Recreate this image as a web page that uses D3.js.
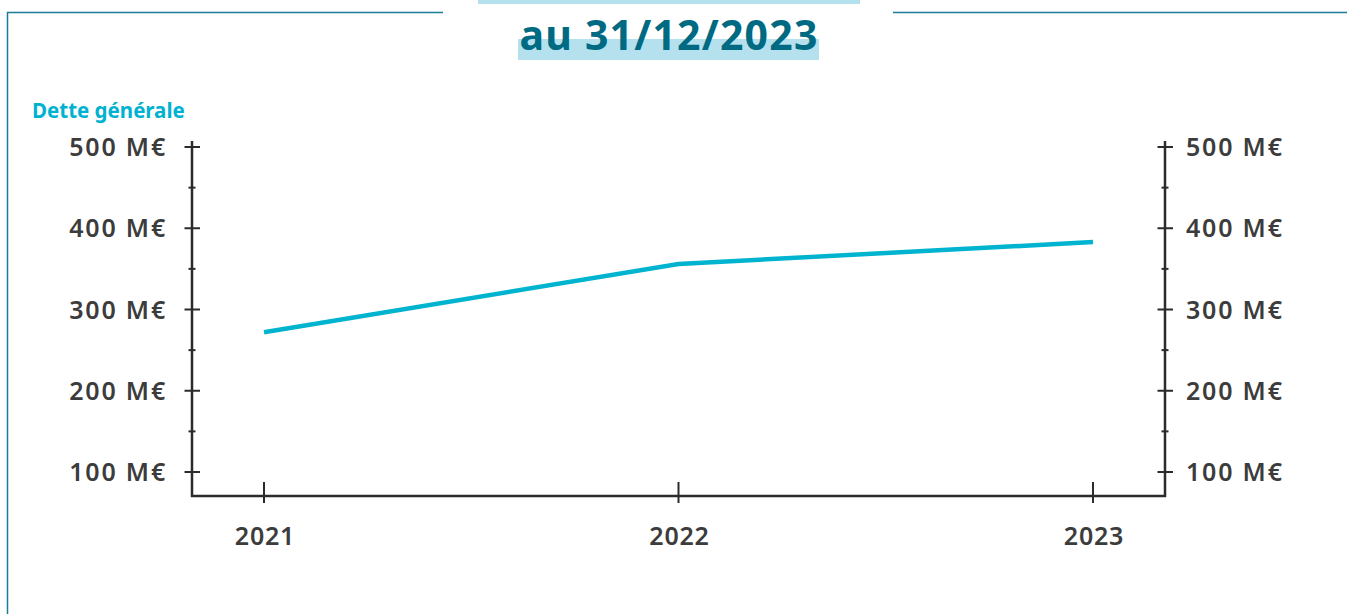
<!DOCTYPE html>
<html><head><meta charset="utf-8">
<script src="https://cdn.jsdelivr.net/npm/d3@7"></script>
<style>body{margin:0;background:#fff;}svg{display:block;font-family:"Noto Sans",sans-serif;}</style>
</head><body>
<svg id="c" width="1347" height="614"></svg>
<script>
const years = ["2021", "2022", "2023"];
const dette = [272, 356, 383];
const yTicks = [100, 200, 300, 400, 500];
const yMinor = [150, 250, 350, 450];
const title = "au 31/12/2023";
const seriesLabel = "Dette générale";

const svg = d3.select("#c");
// frame
const frameColor = "#1b7d98";
svg.append("path").attr("d", "M7.5,614 L7.5,12.5 L443,12.5").attr("fill","none").attr("stroke",frameColor).attr("stroke-width",1.5);
svg.append("path").attr("d", "M893,12.5 L1347,12.5").attr("fill","none").attr("stroke",frameColor).attr("stroke-width",1.5);
// title bars
svg.append("rect").attr("x",478).attr("y",0).attr("width",382).attr("height",4).attr("fill","#b5e1ee");
svg.append("rect").attr("x",518).attr("y",39).attr("width",301).attr("height",21).attr("fill","#b5e1ee");
svg.append("text").attr("x",669).attr("y",50).attr("text-anchor","middle")
  .attr("font-size",41).attr("font-weight",700).attr("letter-spacing",1.2).attr("fill","#006a82").text(title);

svg.append("text").attr("x",32).attr("y",118).attr("font-size",20.5).attr("font-weight",700)
  .attr("fill","#00b2d1").text(seriesLabel);

const left = 192, right = 1165, bottom = 496;
const x = d3.scalePoint().domain(years).range([264, 1093]);
const y = d3.scaleLinear().domain([100, 500]).range([472, 147]);
const axisColor = "#2b2b2b";
const labelColor = "#3c3c3c";
const g = svg.append("g");

// left & right axes
[left, right].forEach(ax => {
  g.append("line").attr("x1",ax).attr("x2",ax).attr("y1",141).attr("y2",bottom+1)
    .attr("stroke",axisColor).attr("stroke-width",2.5);
  g.selectAll(null).data(yTicks).join("line")
    .attr("x1",ax-7.5).attr("x2",ax+8).attr("y1",d=>y(d)).attr("y2",d=>y(d))
    .attr("stroke",axisColor).attr("stroke-width",2);
  g.selectAll(null).data(yMinor).join("line")
    .attr("x1",ax-3.5).attr("x2",ax+3.5).attr("y1",d=>y(d)).attr("y2",d=>y(d))
    .attr("stroke",axisColor).attr("stroke-width",2);
});
// y labels
const fmt = d => d + " M€";
g.selectAll(null).data(yTicks).join("text")
  .attr("x",167).attr("y",d=>y(d)+9).attr("text-anchor","end")
  .attr("font-size",25).attr("font-weight",600).attr("letter-spacing",1.8).attr("fill",labelColor).text(fmt);
g.selectAll(null).data(yTicks).join("text")
  .attr("x",1186).attr("y",d=>y(d)+9).attr("text-anchor","start")
  .attr("font-size",25).attr("font-weight",600).attr("letter-spacing",1.8).attr("fill",labelColor).text(fmt);

// x axis
g.append("line").attr("x1",left-1).attr("x2",right+1).attr("y1",bottom).attr("y2",bottom)
  .attr("stroke",axisColor).attr("stroke-width",2.5);
g.selectAll(null).data(years).join("line")
  .attr("x1",d=>x(d)).attr("x2",d=>x(d)).attr("y1",482).attr("y2",503)
  .attr("stroke",axisColor).attr("stroke-width",2);
g.selectAll(null).data(years).join("text")
  .attr("x",d=>x(d)+1).attr("y",545).attr("text-anchor","middle")
  .attr("font-size",25).attr("font-weight",600).attr("letter-spacing",0.8).attr("fill",labelColor).text(d=>d);

// line
const line = d3.line().x((d,i)=>x(years[i])).y(d=>y(d));
svg.append("path").datum(dette).attr("d",line).attr("fill","none")
  .attr("stroke","#00b4d0").attr("stroke-width",4.5);
</script>
</body></html>
